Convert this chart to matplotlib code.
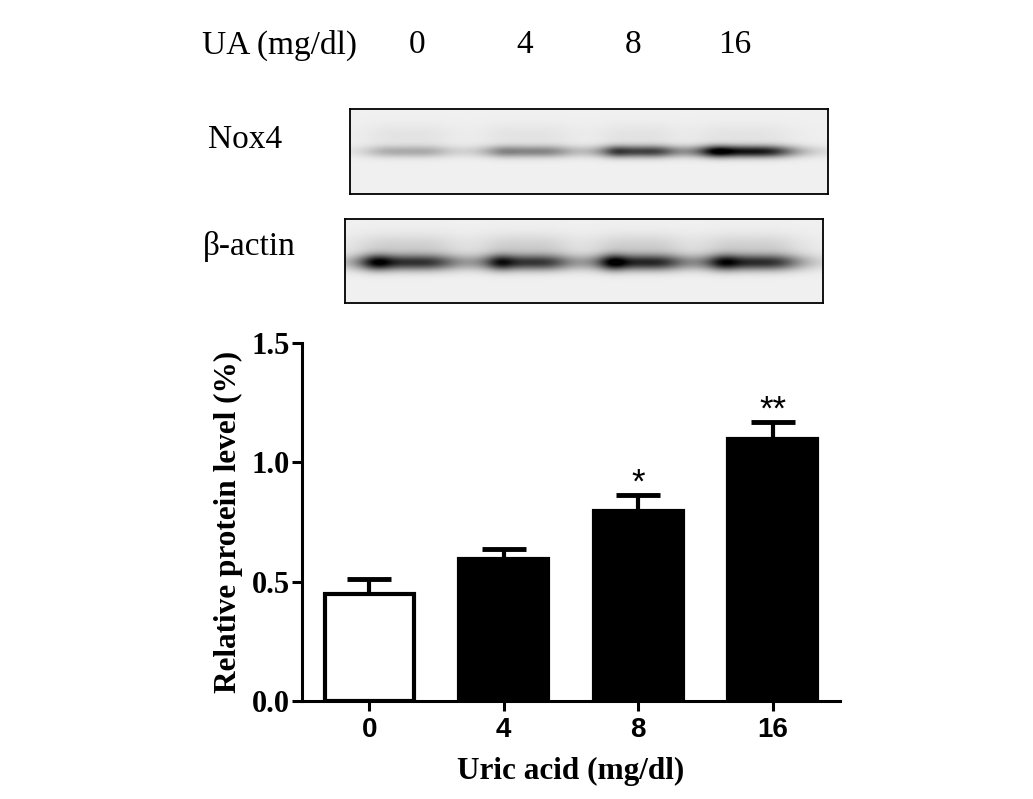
import numpy as np
import matplotlib
matplotlib.use("Agg")
import matplotlib.pyplot as plt

# data
doses = ["0", "4", "8", "16"]
rel_level = [0.45, 0.595, 0.797, 1.098]
rel_err = [0.06, 0.042, 0.067, 0.069]
bar_fill = ["white", "black", "black", "black"]
stars = ["", "", "*", "**"]

# blot bands: lane centre (px from box left), half width, darkness, dark left end
nox4_centers = [57, 177, 287, 394]
nox4_halfw = [40, 42, 36, 46]
nox4_dark = [0.26, 0.40, 0.64, 0.85]
nox4_peak = [0.0, 0.04, 0.10, 0.22]

actin_centers = [60, 180, 293, 406]
actin_halfw = [48, 42, 42, 46]
actin_dark = [0.72, 0.68, 0.74, 0.74]
actin_peak = [0.30, 0.22, 0.30, 0.22]

W, H = 1033, 799
fig = plt.figure(figsize=(W / 100, H / 100), dpi=100)
serif = "Liberation Serif"
sans = "Liberation Sans"


def px_box(x0, y0, x1, y1):
    return [x0 / W, 1 - y1 / H, (x1 - x0) / W, (y1 - y0) / H]


def blot(ax, w, h, band_y, sig, centers, halfw, dark, peak, haze):
    xx = np.arange(w)[None, :]
    yy = np.arange(h)[:, None]
    img = np.full((h, w), 0.06)
    for c, hw, d, p in zip(centers, halfw, dark, peak):
        horiz = 1 / (1 + ((xx - c) / hw) ** 4)
        left = p * np.exp(-((xx - (c - hw * 0.6)) / (hw * 0.3)) ** 2)
        vert = np.exp(-((yy - band_y) / sig) ** 2)
        img = img + (d * horiz + left) * vert
        img = img + haze * horiz * np.exp(-((yy - band_y + 16) / 12) ** 2)
    img = np.clip(img, 0, 1)
    ax.imshow(img, cmap="gray_r", vmin=0, vmax=1, aspect="auto",
              interpolation="bilinear")
    ax.set_xticks([])
    ax.set_yticks([])
    for s in ax.spines.values():
        s.set_linewidth(1.3)


ax_nox = fig.add_axes(px_box(350, 109, 828, 194))
blot(ax_nox, 478, 85, 42, 6.0, nox4_centers, nox4_halfw, nox4_dark, nox4_peak, 0.05)
ax_act = fig.add_axes(px_box(345, 219, 823, 303))
blot(ax_act, 478, 84, 43, 8.0, actin_centers, actin_halfw, actin_dark, actin_peak, 0.12)

# labels over the blot
fig.text(202 / W, 1 - 45 / H, "UA (mg/dl)", fontsize=24, family=serif, va="center")
for lab, xc in zip(doses, [417, 525, 633, 735]):
    fig.text(xc / W, 1 - 45 / H, lab, fontsize=24, family=serif, ha="center", va="center")
fig.text(208 / W, 1 - 140 / H, "Nox4", fontsize=24, family=serif, va="center")
fig.text(203 / W, 1 - 247 / H, "β-actin", fontsize=24, family=serif, va="center")

# bar chart
ax = fig.add_axes(px_box(302, 342.7, 840, 701))
x = np.arange(len(doses))
ax.errorbar(x, rel_level, yerr=[np.zeros(len(x)), rel_err], fmt="none",
            ecolor="black", elinewidth=3, capsize=15.5, capthick=3.5, zorder=2)
ax.bar(x, rel_level, width=0.66, color=bar_fill, edgecolor="black",
       linewidth=3, zorder=3)
for xi, v, e, s in zip(x, rel_level, rel_err, stars):
    if s:
        ax.text(xi, v + e + 0.05, s, ha="center", va="center",
                fontsize=25, family=sans)

ax.set_xlim(-0.5, 3.5)
ax.set_ylim(0, 1.5)
ax.set_yticks([0, 0.5, 1.0, 1.5])
ax.set_yticklabels(["0.0", "0.5", "1.0", "1.5"], family=serif,
                   fontweight="bold", fontsize=22)
ax.set_xticks(x)
ax.set_xticklabels(doses, family=sans, fontweight="bold", fontsize=20)
ax.spines["top"].set_visible(False)
ax.spines["right"].set_visible(False)
for s in ["left", "bottom"]:
    ax.spines[s].set_linewidth(2.2)
ax.tick_params(axis="both", width=2.2, length=7.5)
ax.tick_params(axis="y", pad=1)
ax.tick_params(axis="x", pad=4)

ax.set_ylabel("Relative protein level (%)", family=serif, fontweight="bold",
              fontsize=22.5)
ax.yaxis.label.set_va("center")
ax.yaxis.set_label_coords(-0.136, 0.5)
ax.set_xlabel("Uric acid (mg/dl)", family=serif, fontweight="bold",
              fontsize=22.5)
ax.xaxis.label.set_va("center")
ax.xaxis.set_label_coords(0.5, -0.198)

fig.savefig("out.png", dpi=100)
